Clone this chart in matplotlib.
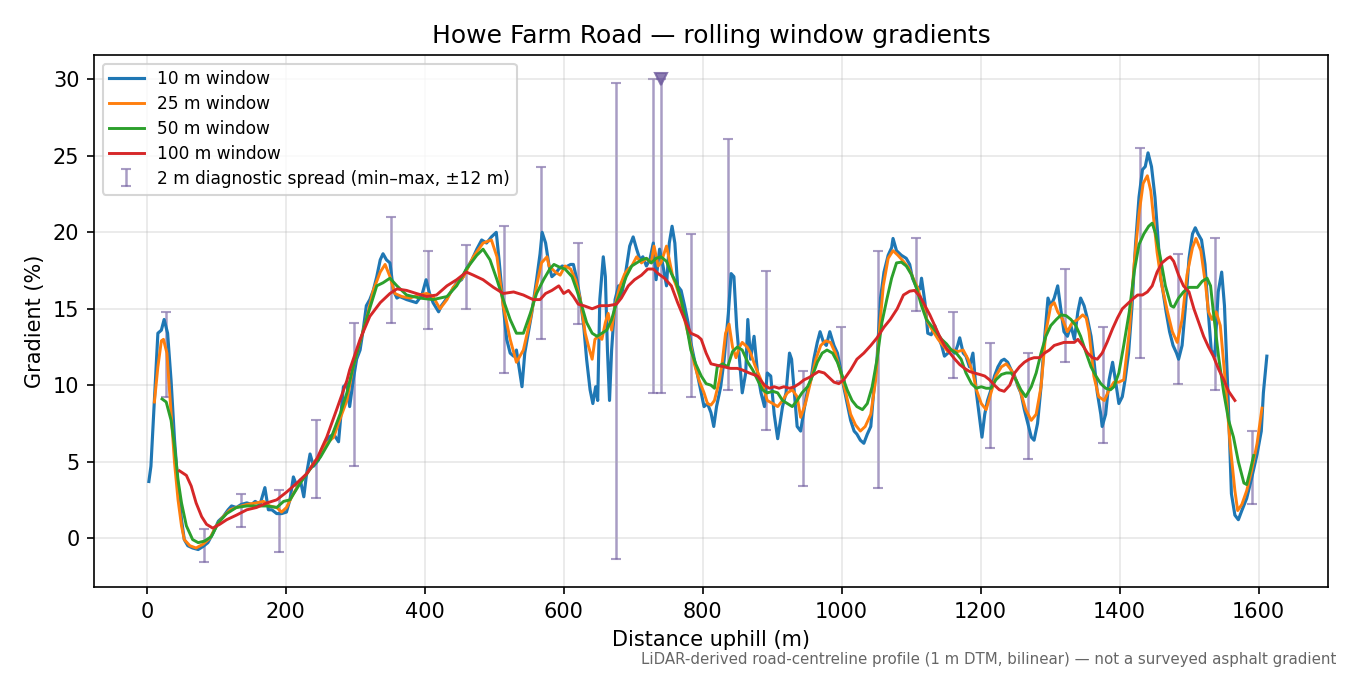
import numpy as np
import matplotlib
matplotlib.use("Agg")
import matplotlib.pyplot as plt

# distance (m) / gradient (%)
x10 = [3, 6, 11, 16, 21, 25, 30, 35, 40, 45, 50, 54, 59, 66, 74, 81, 88, 95, 103, 110,
       117, 122, 129, 136, 144, 151, 156, 163, 170, 175, 180, 187, 194, 201, 206, 211, 216, 221, 226, 230,
       235, 240, 247, 254, 262, 269, 276, 283, 288, 292, 297, 302, 307, 312, 316, 321, 326, 331, 336, 340,
       345, 350, 355, 360, 364, 369, 374, 381, 388, 396, 402, 407, 412, 420, 424, 432, 439, 446, 453, 460,
       468, 475, 482, 489, 496, 503, 507, 513, 518, 523, 528, 532, 540, 544, 549, 554, 561, 566, 569, 574,
       579, 583, 588, 593, 598, 602, 610, 614, 619, 624, 629, 633, 638, 642, 646, 649, 652, 657, 660, 663,
       666, 669, 674, 679, 683, 689, 695, 700, 705, 710, 714, 719, 724, 729, 733, 738, 743, 748, 752, 756,
       760, 764, 769, 774, 779, 783, 788, 793, 798, 802, 807, 812, 816, 820, 826, 831, 837, 841, 845, 849,
       853, 857, 862, 865, 869, 874, 879, 884, 889, 893, 898, 903, 908, 915, 920, 925, 928, 932, 936, 941,
       946, 951, 956, 960, 965, 969, 974, 978, 983, 989, 994, 998, 1003, 1008, 1013, 1018, 1022, 1027, 1032, 1037,
       1042, 1046, 1051, 1056, 1061, 1067, 1072, 1074, 1079, 1086, 1093, 1098, 1102, 1107, 1113, 1115, 1120, 1124, 1129, 1134,
       1139, 1144, 1148, 1153, 1158, 1163, 1167, 1170, 1175, 1179, 1184, 1189, 1194, 1199, 1202, 1206, 1210, 1215, 1220, 1225,
       1230, 1234, 1239, 1244, 1249, 1254, 1258, 1263, 1268, 1273, 1277, 1282, 1287, 1292, 1297, 1301, 1306, 1311, 1316, 1320,
       1325, 1330, 1335, 1340, 1344, 1349, 1354, 1359, 1363, 1368, 1373, 1375, 1380, 1385, 1390, 1394, 1399, 1404, 1408, 1413,
       1418, 1423, 1428, 1433, 1437, 1441, 1446, 1451, 1456, 1459, 1462, 1467, 1472, 1477, 1482, 1485, 1490, 1495, 1500, 1505,
       1509, 1513, 1518, 1523, 1527, 1532, 1537, 1542, 1547, 1551, 1556, 1561, 1566, 1571, 1576, 1583, 1590, 1598, 1604, 1607,
       1612]
g10 = [3.7, 4.7, 9.0, 13.4, 13.6, 14.3, 13.4, 10.3, 6.4, 3.4, 1.2, -0.1, -0.5, -0.65, -0.75, -0.55, -0.3, 0.3, 1.1, 1.4,
       1.85, 2.1, 2.0, 2.2, 2.3, 2.2, 2.4, 2.2, 3.3, 1.85, 1.85, 1.6, 1.6, 1.7, 2.5, 4.0, 3.4, 3.8, 2.7, 4.2,
       5.5, 4.7, 5.1, 6.0, 6.6, 6.8, 6.3, 9.9, 10.1, 8.6, 10.3, 11.7, 12.3, 13.8, 15.2, 15.6, 16.2, 17.1, 18.2, 18.6,
       18.2, 18.0, 16.2, 15.7, 15.8, 15.7, 15.6, 15.5, 15.4, 15.9, 16.9, 16.0, 15.4, 14.8, 15.2, 15.7, 16.2, 16.7, 16.9, 17.6,
       18.2, 18.9, 19.5, 19.3, 19.7, 20.0, 18.2, 15.2, 13.0, 12.1, 11.9, 12.3, 9.9, 12.1, 13.4, 14.7, 16.9, 18.6, 20.0, 19.3,
       17.8, 17.1, 17.3, 17.6, 17.8, 17.7, 17.9, 17.9, 16.9, 15.6, 13.8, 11.7, 9.7, 8.8, 9.9, 9.0, 15.6, 18.4, 17.1, 12.3,
       9.0, 12.3, 15.6, 16.5, 15.8, 17.3, 19.1, 19.7, 18.9, 18.2, 18.4, 17.8, 18.2, 19.3, 16.9, 18.9, 17.8, 16.5, 19.3, 20.4,
       19.3, 16.5, 16.2, 15.2, 14.1, 12.8, 11.7, 10.6, 9.5, 8.6, 8.8, 8.2, 7.3, 8.6, 9.9, 11.7, 14.7, 17.3, 17.1, 13.8,
       11.7, 9.5, 10.8, 14.3, 11.7, 13.2, 10.8, 9.5, 8.6, 10.8, 10.6, 8.1, 6.5, 8.6, 9.5, 12.1, 11.7, 9.5, 7.3, 7.0,
       8.4, 9.7, 10.4, 11.7, 12.8, 13.5, 12.8, 12.6, 13.5, 12.6, 12.1, 11.2, 9.9, 8.8, 7.7, 7.0, 6.8, 6.4, 6.2, 6.8,
       7.3, 9.5, 11.7, 15.7, 17.4, 18.5, 19.0, 19.6, 18.8, 18.5, 18.3, 17.9, 17.0, 16.5, 16.3, 17.0, 15.4, 13.4, 13.3, 13.9,
       13.2, 12.6, 11.9, 12.1, 12.3, 12.1, 12.6, 13.1, 12.1, 11.9, 11.2, 12.1, 9.5, 7.7, 6.6, 8.1, 9.0, 9.7, 10.6, 11.2,
       11.6, 11.7, 11.5, 11.0, 10.6, 9.9, 9.5, 8.4, 7.5, 6.6, 6.4, 7.5, 9.9, 13.0, 15.7, 15.2, 15.7, 16.5, 14.8, 13.5,
       13.2, 13.9, 13.0, 14.8, 15.7, 15.2, 14.3, 13.2, 11.7, 9.5, 8.1, 7.3, 8.1, 10.35, 11.5, 10.35, 8.8, 9.25, 10.35, 12.1,
       15.2, 19.2, 22.3, 24.1, 24.3, 25.2, 24.3, 22.3, 19.2, 17.0, 16.3, 14.8, 13.5, 12.6, 12.1, 11.7, 12.6, 15.2, 18.3, 19.9,
       20.3, 19.9, 19.5, 17.9, 15.2, 12.3, 11.9, 16.1, 17.4, 15.2, 9.5, 2.9, 1.5, 1.2, 1.8, 2.6, 3.9, 5.5, 7.0, 9.5,
       11.9]

x25 = [11, 16, 21, 24, 29, 35, 40, 45, 50, 54, 62, 71, 81, 91, 100, 110, 120, 129, 144, 158,
       168, 177, 187, 194, 201, 211, 221, 230, 240, 250, 259, 269, 279, 288, 297, 316, 326, 336, 343, 350,
       357, 367, 379, 391, 403, 412, 422, 432, 441, 456, 470, 484, 496, 504, 513, 523, 532, 542, 552, 561,
       568, 576, 579, 588, 595, 602, 610, 617, 624, 631, 636, 641, 645, 650, 655, 660, 664, 669, 674, 681,
       688, 693, 698, 705, 712, 719, 726, 730, 736, 740, 748, 752, 757, 762, 767, 774, 781, 788, 795, 802,
       807, 812, 817, 824, 828, 833, 838, 843, 848, 853, 857, 864, 869, 876, 884, 893, 901, 908, 915, 922,
       929, 936, 941, 948, 956, 963, 970, 977, 984, 991, 999, 1006, 1013, 1020, 1027, 1034, 1042, 1049, 1055, 1060,
       1067, 1074, 1081, 1089, 1096, 1103, 1110, 1117, 1124, 1132, 1139, 1146, 1153, 1160, 1167, 1175, 1182, 1189, 1194, 1201,
       1208, 1215, 1222, 1230, 1237, 1244, 1251, 1258, 1265, 1273, 1280, 1287, 1294, 1301, 1306, 1311, 1318, 1325, 1332, 1340,
       1347, 1352, 1356, 1363, 1370, 1378, 1385, 1392, 1399, 1406, 1414, 1421, 1428, 1434, 1440, 1445, 1450, 1454, 1461, 1469,
       1476, 1483, 1490, 1497, 1505, 1510, 1517, 1524, 1528, 1533, 1539, 1545, 1552, 1559, 1566, 1570, 1576, 1583, 1590, 1598,
       1605]
g25 = [8.9, 11.2, 12.9, 13.0, 12.1, 8.2, 4.9, 2.5, 0.8, -0.1, -0.5, -0.65, -0.4, 0.0, 0.8, 1.4, 1.85, 2.0, 2.2, 2.3,
       2.4, 2.1, 2.0, 1.7, 2.0, 2.9, 3.7, 4.2, 4.9, 5.5, 6.2, 6.6, 7.9, 9.0, 11.2, 14.3, 16.2, 17.4, 17.9, 17.1,
       16.0, 15.8, 15.7, 15.9, 16.0, 15.8, 15.0, 15.6, 16.4, 17.1, 18.4, 19.3, 19.5, 18.4, 15.2, 13.0, 11.5, 12.3, 14.3, 16.5,
       18.0, 18.4, 17.8, 17.4, 17.2, 17.8, 17.6, 16.9, 15.6, 13.4, 12.5, 11.7, 13.0, 13.2, 13.0, 14.1, 14.7, 13.6, 15.2, 16.5,
       17.3, 17.6, 17.8, 18.4, 18.0, 18.3, 18.0, 19.1, 17.8, 18.0, 19.1, 18.2, 17.1, 16.5, 15.8, 14.3, 13.0, 11.4, 10.3, 9.5,
       8.8, 8.7, 9.0, 10.3, 11.4, 13.4, 14.0, 12.5, 11.8, 12.5, 12.8, 12.5, 12.1, 11.2, 10.35, 9.0, 8.8, 8.6, 9.0, 9.5,
       9.7, 9.25, 7.9, 8.8, 10.35, 11.7, 12.6, 12.9, 12.8, 12.1, 10.8, 9.5, 8.1, 7.4, 7.0, 7.3, 8.1, 10.35, 13.9, 16.5,
       18.3, 18.8, 18.5, 18.1, 17.7, 17.0, 16.3, 15.2, 14.1, 13.5, 13.0, 12.6, 12.2, 12.3, 12.2, 12.3, 11.7, 10.8, 9.7, 8.8,
       8.4, 9.5, 10.6, 11.2, 11.4, 11.0, 10.35, 9.5, 8.4, 7.7, 8.1, 9.9, 13.5, 15.2, 15.4, 14.8, 14.3, 13.5, 14.1, 14.3,
       14.6, 14.4, 13.5, 10.6, 9.25, 9.0, 9.7, 10.2, 10.2, 10.35, 13.5, 17.9, 21.2, 23.2, 23.7, 22.7, 20.5, 18.7, 16.5, 14.8,
       13.5, 12.8, 14.3, 17.2, 19.0, 19.6, 18.8, 16.5, 14.8, 14.3, 14.8, 13.9, 10.35, 6.2, 3.1, 1.8, 2.2, 3.1, 4.4, 6.2,
       8.5]

x50 = [22, 28, 35, 40, 45, 50, 57, 66, 74, 83, 93, 103, 115, 129, 144, 158, 173, 187, 197, 206,
       221, 235, 250, 264, 279, 288, 297, 316, 331, 340, 350, 360, 374, 393, 412, 432, 446, 460, 475, 484,
       494, 504, 513, 523, 532, 542, 552, 561, 571, 580, 586, 595, 602, 612, 619, 626, 633, 641, 648, 655,
       662, 669, 676, 683, 690, 698, 705, 712, 719, 726, 733, 740, 748, 755, 762, 769, 776, 783, 790, 798,
       805, 812, 817, 821, 829, 836, 843, 850, 857, 865, 872, 879, 886, 893, 901, 908, 915, 922, 929, 936,
       943, 951, 958, 965, 972, 979, 987, 994, 1001, 1008, 1015, 1022, 1030, 1037, 1044, 1051, 1058, 1065, 1072, 1079,
       1086, 1093, 1101, 1108, 1115, 1122, 1129, 1136, 1144, 1151, 1158, 1165, 1172, 1179, 1187, 1194, 1201, 1208, 1215, 1222,
       1230, 1237, 1244, 1251, 1258, 1265, 1273, 1280, 1287, 1294, 1301, 1309, 1316, 1323, 1330, 1337, 1344, 1352, 1359, 1366,
       1373, 1380, 1387, 1392, 1399, 1406, 1414, 1421, 1428, 1435, 1442, 1447, 1452, 1459, 1466, 1474, 1478, 1485, 1492, 1500,
       1507, 1512, 1519, 1526, 1531, 1535, 1543, 1550, 1557, 1564, 1571, 1579, 1583, 1588, 1593]
g50 = [9.1, 8.9, 7.7, 6.0, 3.8, 2.3, 0.8, -0.1, -0.3, -0.2, 0.1, 1.0, 1.6, 2.0, 2.1, 2.1, 2.1, 2.0, 2.4, 2.5,
       3.6, 4.5, 5.3, 6.4, 8.2, 9.5, 11.2, 14.3, 16.5, 16.7, 17.0, 16.5, 15.9, 15.7, 15.6, 15.8, 16.5, 17.6, 18.5, 18.9,
       18.2, 16.9, 15.6, 14.3, 13.4, 13.4, 14.7, 16.0, 16.9, 17.6, 17.9, 17.7, 17.6, 17.1, 16.2, 15.2, 14.1, 13.4, 13.2, 13.4,
       13.6, 14.3, 15.4, 16.2, 17.1, 17.8, 18.0, 18.2, 18.3, 18.0, 18.3, 18.4, 18.1, 17.3, 16.7, 15.6, 14.1, 12.3, 11.4, 10.6,
       10.1, 10.0, 9.8, 11.2, 11.4, 11.2, 12.2, 12.5, 12.3, 11.5, 11.0, 10.35, 9.7, 9.5, 9.6, 9.5, 9.0, 8.8, 8.6, 9.0,
       9.5, 9.9, 10.6, 11.5, 12.1, 12.3, 12.1, 11.5, 10.6, 9.7, 9.0, 8.6, 8.4, 8.8, 9.9, 11.7, 14.1, 15.6, 17.0, 18.0,
       18.05, 17.8, 17.2, 16.3, 15.2, 14.3, 13.9, 13.5, 13.0, 12.7, 12.3, 12.1, 11.7, 10.8, 10.1, 9.8, 9.9, 9.8, 9.8, 10.35,
       10.7, 10.8, 10.8, 10.35, 9.7, 9.25, 9.9, 10.8, 12.1, 13.2, 13.9, 14.3, 14.6, 14.55, 14.3, 13.9, 13.2, 12.1, 11.2, 10.6,
       10.1, 9.8, 9.7, 9.9, 10.8, 12.6, 14.8, 17.4, 19.2, 19.9, 20.4, 20.6, 19.9, 18.3, 16.5, 15.2, 15.1, 15.7, 16.1, 16.4,
       16.4, 16.4, 16.8, 17.0, 16.5, 14.8, 11.7, 9.5, 7.7, 6.6, 5.0, 3.6, 3.5, 4.4, 5.4]

x100 = [47, 57, 64, 71, 79, 86, 95, 105, 115, 129, 144, 158, 173, 187, 201, 216, 230, 245, 259, 274,
        288, 292, 307, 321, 336, 350, 360, 374, 388, 403, 417, 432, 446, 460, 470, 484, 499, 513, 528, 542,
        556, 566, 574, 583, 593, 600, 607, 614, 621, 629, 641, 652, 664, 676, 683, 693, 702, 712, 721, 729,
        736, 745, 755, 764, 774, 783, 793, 798, 805, 812, 821, 831, 840, 850, 857, 867, 879, 889, 896, 903,
        910, 917, 925, 932, 939, 946, 953, 960, 967, 975, 982, 989, 996, 1003, 1013, 1022, 1032, 1042, 1051, 1061,
        1070, 1080, 1089, 1098, 1105, 1113, 1120, 1127, 1134, 1141, 1148, 1156, 1163, 1170, 1177, 1184, 1191, 1199, 1206, 1213,
        1220, 1227, 1234, 1242, 1249, 1256, 1263, 1270, 1277, 1285, 1292, 1299, 1306, 1313, 1320, 1328, 1335, 1340, 1347, 1354,
        1361, 1368, 1375, 1382, 1390, 1397, 1404, 1411, 1418, 1426, 1433, 1440, 1447, 1454, 1461, 1469, 1473, 1478, 1485, 1492,
        1500, 1507, 1514, 1521, 1528, 1535, 1543, 1550, 1557, 1566]
g100 = [4.4, 4.1, 3.4, 2.3, 1.4, 0.9, 0.65, 0.9, 1.2, 1.5, 1.85, 2.0, 2.3, 2.5, 3.0, 3.6, 4.2, 5.2, 6.6, 8.5,
        10.3, 11.0, 13.0, 14.5, 15.4, 16.0, 16.3, 16.2, 16.0, 15.8, 15.9, 16.5, 16.9, 17.4, 17.2, 16.9, 16.4, 16.0, 16.1, 15.9,
        15.6, 15.6, 16.0, 16.2, 16.5, 16.0, 16.2, 15.8, 15.3, 15.2, 15.0, 15.2, 15.2, 15.3, 15.7, 16.5, 16.9, 17.2, 17.6, 17.6,
        17.3, 17.0, 16.5, 15.4, 14.3, 13.4, 13.2, 13.0, 12.1, 11.4, 11.3, 11.2, 11.1, 11.1, 11.0, 10.8, 10.6, 10.0, 9.8, 9.9,
        9.8, 9.9, 9.8, 9.9, 10.1, 10.35, 10.5, 10.7, 10.9, 10.8, 10.5, 10.2, 10.1, 10.35, 11.0, 11.7, 12.1, 12.6, 13.1, 13.8,
        14.3, 15.0, 15.9, 16.15, 16.2, 15.8, 15.2, 14.6, 13.9, 13.2, 12.6, 12.1, 11.7, 11.35, 11.1, 10.9, 10.8, 10.7, 10.6, 10.35,
        10.0, 9.7, 9.6, 10.0, 10.8, 11.2, 11.5, 11.7, 11.8, 11.8, 12.1, 12.3, 12.6, 12.7, 12.8, 12.8, 12.8, 13.0, 12.6, 12.1,
        11.8, 11.7, 12.1, 12.8, 13.7, 14.4, 15.0, 15.3, 15.6, 15.9, 15.9, 16.1, 16.5, 17.4, 18.0, 18.3, 18.4, 18.1, 17.2, 16.5,
        16.1, 15.0, 14.1, 13.2, 12.5, 11.9, 11.0, 10.35, 9.6, 9.0]

# 2 m diagnostic spread, every ~54 m (min / max)
diag_x = [27, 82, 135, 191, 244, 298, 352, 405, 460, 514, 567, 621, 675, 729, 740, 783,
          837, 891, 945, 999, 1053, 1107, 1160, 1214, 1268, 1322, 1376, 1430, 1484, 1538, 1591]
diag_lo = [9.2, -1.55, 0.7, -0.9, 2.6, 4.7, 14.1, 13.7, 15.0, 10.8, 13.0, 14.0, -1.4, 9.5, 9.5, 9.2,
           9.7, 7.1, 3.4, 10.3, 3.3, 14.85, 10.45, 5.9, 5.2, 11.5, 6.2, 11.8, 10.1, 9.7, 2.2]
diag_hi = [14.8, 0.6, 2.9, 3.15, 7.7, 14.1, 21.0, 18.8, 19.2, 20.4, 24.3, 19.3, 29.8, 30.0, 33.0, 19.9,
           26.1, 17.5, 10.9, 13.8, 18.8, 19.6, 14.8, 12.75, 12.1, 17.6, 13.8, 25.5, 18.6, 19.6, 7.0]

Y_CAP = 30.0

fig, ax = plt.subplots(figsize=(9, 4.5), dpi=150)

ax.plot(x10, g10, color='tab:blue', lw=1.5, label='10 m window')
ax.plot(x25, g25, color='tab:orange', lw=1.4, label='25 m window')
ax.plot(x50, g50, color='tab:green', lw=1.4, label='50 m window')
ax.plot(x100, g100, color='tab:red', lw=1.4, label='100 m window')

# spread bars, clipped at the top of the scale
lo = np.array(diag_lo)
hi = np.minimum(np.array(diag_hi), Y_CAP)
mid = (lo + hi) / 2
ax.errorbar(diag_x, mid, yerr=[mid - lo, hi - mid], fmt='none', ecolor='#6f5b9e',
            alpha=0.6, elinewidth=1.2, capsize=2.5, zorder=1,
            label='2 m diagnostic spread (min\u2013max, \u00b112 m)')
over = np.array(diag_hi) > Y_CAP
ax.plot(np.array(diag_x)[over], np.full(over.sum(), Y_CAP), 'v', color='#6f5b9e',
        alpha=0.8, ms=6, zorder=3)

ax.set_xlim(-76, 1700)
ax.set_ylim(-3.2, 31.6)
ax.grid(True, alpha=0.3)
ax.set_title('Howe Farm Road \u2014 rolling window gradients', fontsize=12)
ax.set_xlabel('Distance uphill (m)')
ax.set_ylabel('Gradient (%)')
ax.legend(loc='upper left', fontsize=8.2, labelspacing=0.4)

fig.subplots_adjust(left=0.0696, right=0.9837, bottom=0.1304, top=0.9185)
fig.text(0.99, 0.012, 'LiDAR-derived road-centreline profile (1 m DTM, bilinear) \u2014 not a surveyed asphalt gradient',
         ha='right', va='bottom', fontsize=7.2, color='#666666')

fig.savefig('out.png', dpi=150)
